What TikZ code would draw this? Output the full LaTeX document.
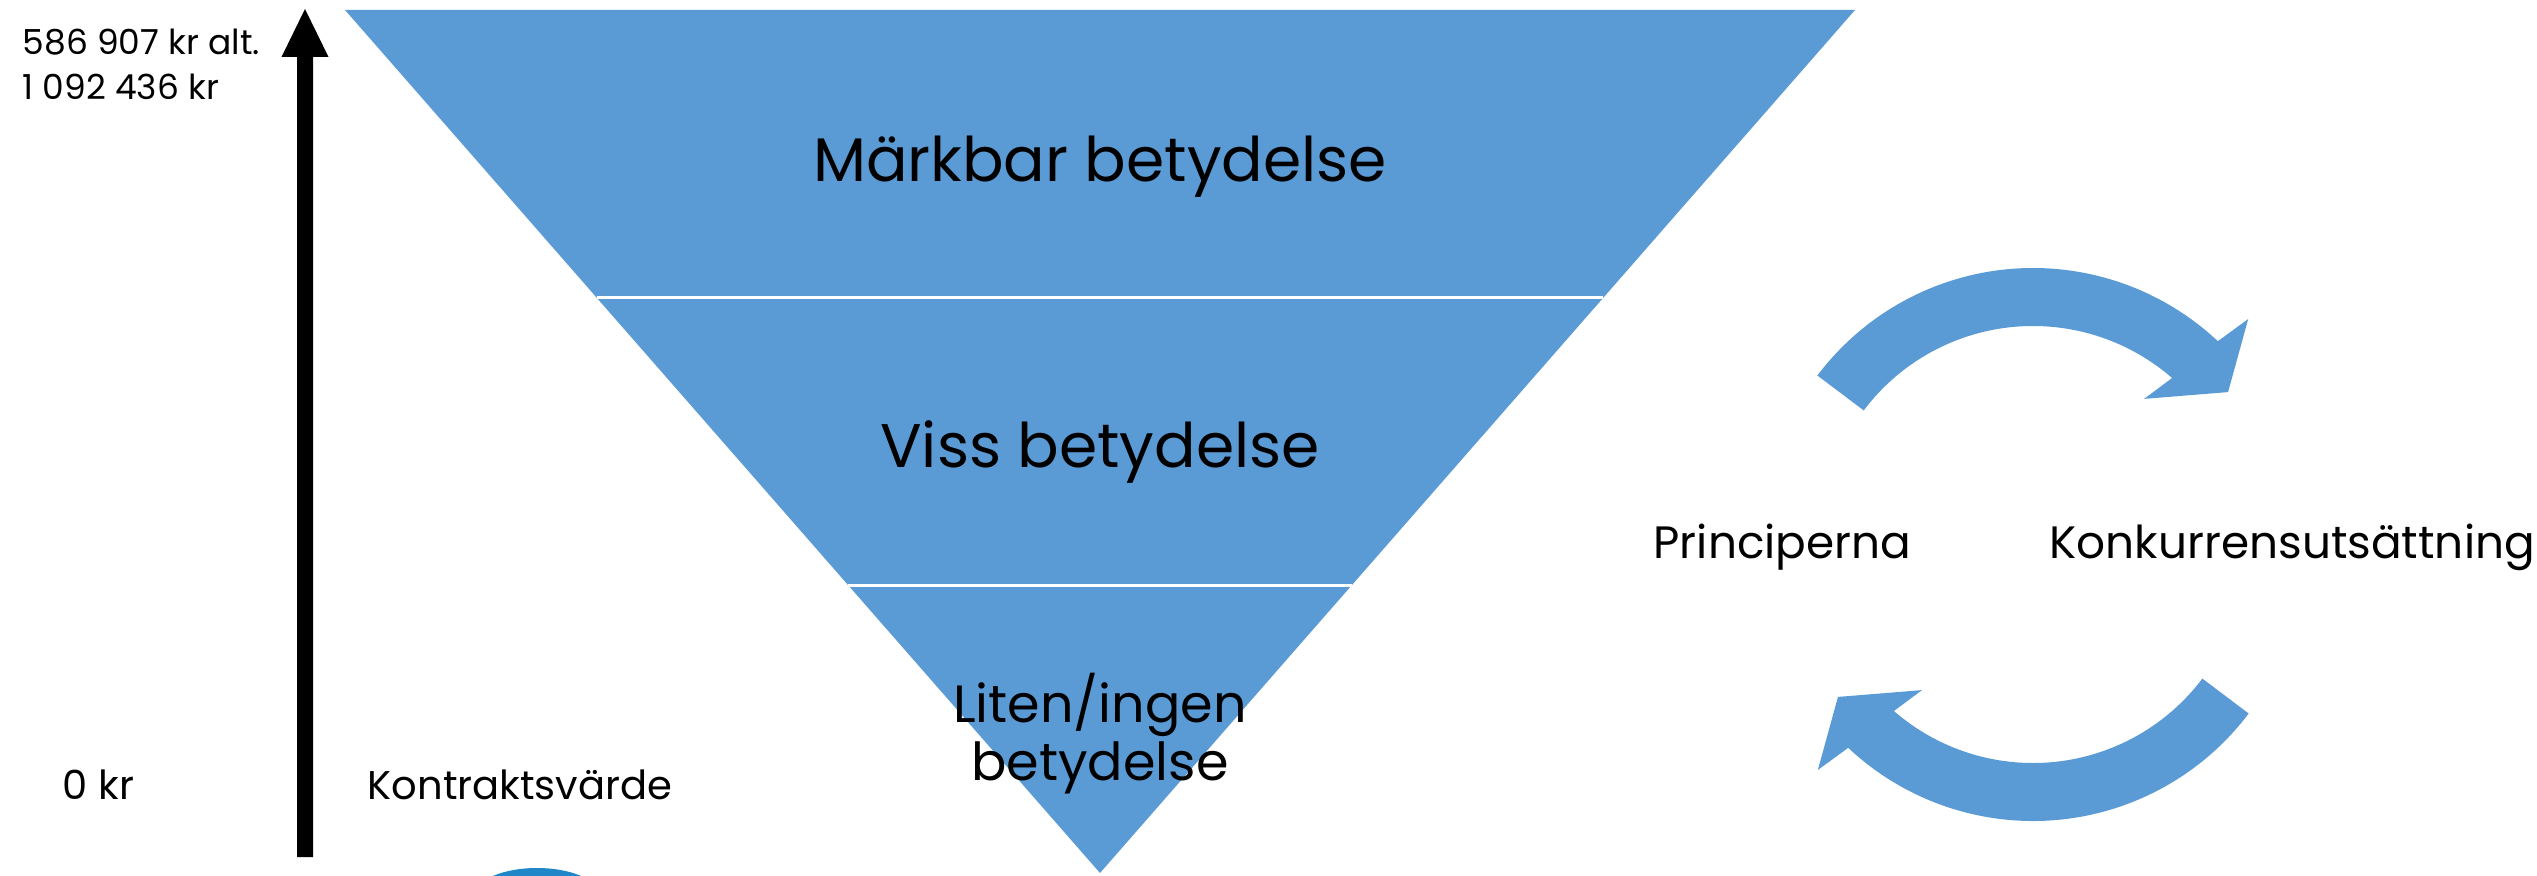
\documentclass[tikz,border=0pt]{standalone}
\usepackage{fontspec}
\setmainfont{Poppins}
\begin{document}
\begin{tikzpicture}[x=0.01cm,y=0.01cm,
  band/.style={fill=pyrblue},
  bigtxt/.style={font=\fontsize{17.5}{21}\selectfont, inner sep=0pt},
  midtxt/.style={font=\fontsize{14.9}{18}\selectfont, inner sep=0pt},
  smalltxt/.style={font=\fontsize{11.4}{13}\selectfont, inner sep=0pt, anchor=base west},
  valtxt/.style={font=\fontsize{9.8}{12}\selectfont, inner sep=0pt, anchor=base west},
  sidetxt/.style={font=\fontsize{12.9}{15}\selectfont, inner sep=0pt, anchor=base west},
  cyc/.style={fill=pyrblue}]
\definecolor{pyrblue}{HTML}{5B9BD5}
\definecolor{dotblue}{RGB}{31,134,200}
\useasboundingbox (0,0) rectangle (2537,875);
% pyramid
\coordinate (tl) at (345,865);
\coordinate (tr) at (1855,865);
\coordinate (ap) at (1100,2);
\coordinate (l1) at (596.7,577.3);
\coordinate (r1) at (1603.3,577.3);
\coordinate (l2) at (848.3,289.7);
\coordinate (r2) at (1351.7,289.7);
\fill[band] (tl) -- (tr) -- (ap) -- cycle;
\draw[white, line width=0.03cm] (l1) -- (r1);
\draw[white, line width=0.03cm] (l2) -- (r2);
\node[bigtxt, anchor=base] (t1) at (1100,693) {Märkbar betydelse};
\node[bigtxt, anchor=base] (t2) at (1100,408) {Viss betydelse};
\node[midtxt, anchor=base] (t3a) at (1100,153) {Liten/ingen};
\node[midtxt, anchor=base] (t3b) at (1100,95) {betydelse};
% axis
\fill[black] (297,18) -- (313,18) -- (313,818) -- (328.5,818) -- (305,866) -- (281.5,818) -- (297,818) -- cycle;
\node[valtxt] (vmax1) at (22,820) {586 907 kr alt.};
\node[valtxt] (vmax2) at (22,775) {1 092 436 kr};
\node[smalltxt] (vmin) at (62,76) {0 kr};
\node[smalltxt] (kv) at (367,76) {Kontraktsvärde};
% partial ellipse at bottom
\begin{scope}
\clip (0,0) rectangle (2537,875);
\fill[dotblue] (537,-18) ellipse [x radius=60, y radius=25];
\end{scope}
% cycle arrows
\begin{scope}[shift={(2033,337)}]
\fill[cyc] (143:270) arc[start angle=143, end angle=46.8, radius=270] -- (45.5:307) -- (36.8:243.6) -- (51.4:178) -- (49:212) arc[start angle=49, end angle=143, radius=212] -- cycle;
\end{scope}
\begin{scope}[shift={(2033,324)}, rotate=180]
\fill[cyc] (143:270) arc[start angle=143, end angle=46.8, radius=270] -- (45.5:307) -- (36.8:243.6) -- (51.4:178) -- (49:212) arc[start angle=49, end angle=143, radius=212] -- cycle;
\end{scope}
\node[sidetxt] (pr) at (1653,317) {Principerna};
\node[sidetxt] (ko) at (2049,317) {Konkurrensutsättning};
\end{tikzpicture}
\end{document}
